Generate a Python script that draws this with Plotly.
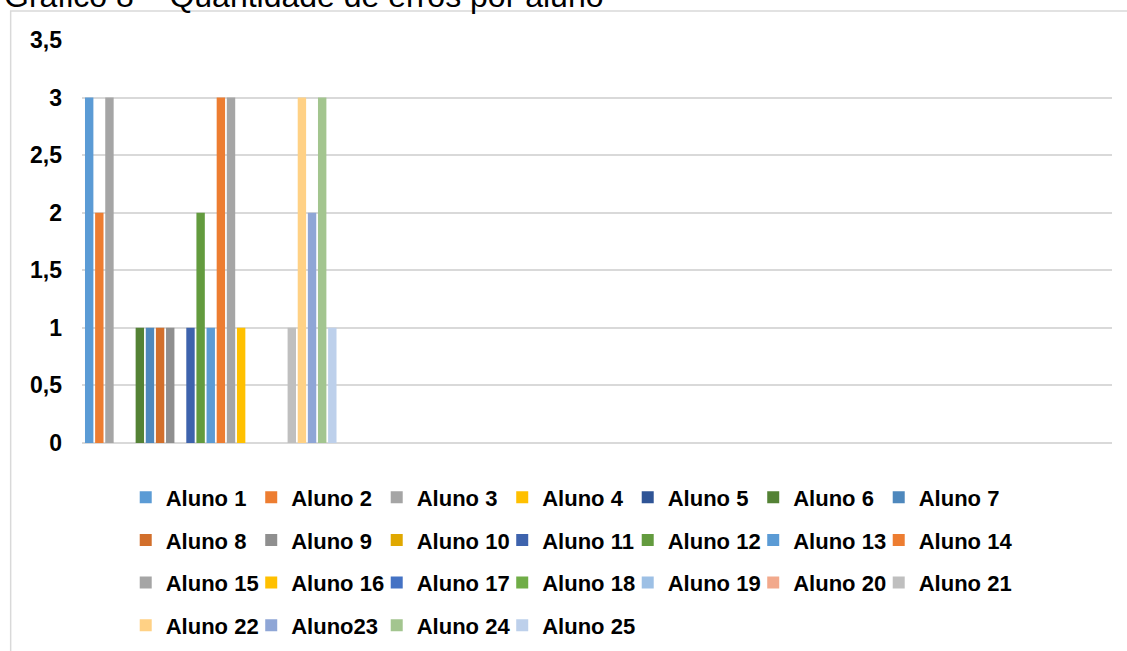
import plotly.graph_objects as go

# ---- data ----
categorias = ["Q1", "Q2", "Q3", "Q4"]  # eixo x (sem rótulos visíveis)
alunos = ["Aluno 1", "Aluno 2", "Aluno 3", "Aluno 4", "Aluno 5", "Aluno 6", "Aluno 7",
          "Aluno 8", "Aluno 9", "Aluno 10", "Aluno 11", "Aluno 12", "Aluno 13", "Aluno 14",
          "Aluno 15", "Aluno 16", "Aluno 17", "Aluno 18", "Aluno 19", "Aluno 20", "Aluno 21",
          "Aluno 22", "Aluno23", "Aluno 24", "Aluno 25"]
erros = [3, 2, 3, 0, 0, 1, 1, 1, 1, 0, 1, 2, 1, 3, 3, 1, 0, 0, 0, 0, 1, 3, 2, 3, 1]
y_ticks = [0, 0.5, 1, 1.5, 2, 2.5, 3, 3.5]
titulo = "Gráfico 8 – Quantidade de erros por aluno"

cores = ["#5B9BD5", "#ED7D31", "#A5A5A5", "#FFC000", "#2F5496", "#548235", "#4E88BD",
         "#D26F2B", "#8F8F8F", "#E0A800", "#3E63AD", "#639B3E", "#5B9BD5", "#ED7D31",
         "#A5A5A5", "#FFC000", "#4472C4", "#70AD47", "#9DC0E5", "#F2A98C", "#BFBFBF",
         "#FFD185", "#8FA6D6", "#A3C58F", "#BDD0EB"]

# ---- layout geometry (pixels) ----
W, H = 1127, 651
L, R, T, B = 82.3, 1111.7, 40.0, 443.3
pw, ph = R - L, B - T

def px_x(x):
    return (x - L) / pw

def px_y(y):
    return (B - y) / ph

FONT = "Liberation Sans, Arial, sans-serif"
row_of = [0] * 7 + [1] * 7 + [2] * 7 + [3] * 4
legend_ids = ["legend", "legend2", "legend3", "legend4"]
row_y = [497.8, 540.5, 583.2, 626.0]
last_in_row = {6, 13, 20, 24}

fig = go.Figure()
for i, (nome, v) in enumerate(zip(alunos, erros)):
    extra = dict(legendwidth=110) if i in last_in_row else {}
    fig.add_trace(go.Bar(
        x=[categorias[0]], y=[v], name=nome,
        marker=dict(color=cores[i], line=dict(width=0)),
        legend=legend_ids[row_of[i]], **extra,
    ))

leg_common = dict(
    orientation="h", xanchor="left", yanchor="middle",
    x=px_x(126), entrywidth=80.5, entrywidthmode="pixels",
    bgcolor="rgba(0,0,0,0)", traceorder="normal",
    font=dict(family=FONT, size=22, color="#000000", weight="bold"),
)

layout_legends = {}
for k, lid in enumerate(legend_ids):
    layout_legends[lid] = dict(leg_common, y=px_y(row_y[k]))

fig.update_layout(
    width=W, height=H,
    margin=dict(l=L, r=W - R, t=T, b=H - B, autoexpand=False),
    paper_bgcolor="white", plot_bgcolor="white",
    barmode="group", bargap=0.0165, bargroupgap=0.17,
    separators=", ",
    showlegend=True,
    xaxis=dict(
        type="category", categoryorder="array", categoryarray=categorias,
        range=[-0.5, 3.5], showticklabels=False, showgrid=False,
        zeroline=False, showline=False, ticks="",
    ),
    yaxis=dict(
        range=[0, 3.5], tickvals=y_ticks, showgrid=True,
        gridcolor="#D9D9D9", gridwidth=1.5, zeroline=True,
        zerolinecolor="#D9D9D9", zerolinewidth=1.5, showline=False,
        ticks="", ticklabelstandoff=19,
        tickfont=dict(family=FONT, size=23, color="#000000", weight="bold"),
    ),
    shapes=[dict(
        type="rect", xref="paper", yref="paper",
        x0=px_x(11), x1=px_x(1140), y0=px_y(700), y1=px_y(11),
        line=dict(color="#D9D9D9", width=1.5), fillcolor="rgba(0,0,0,0)", layer="below",
    )],
    annotations=[dict(
        text=titulo, xref="paper", yref="paper", x=px_x(2), y=px_y(-3.8),
        xanchor="left", yanchor="middle", showarrow=False,
        font=dict(family=FONT, size=32, color="#000000"),
    )],
    **layout_legends,
)

fig.write_html("out.html", config={"displayModeBar": False},
               post_script="document.body.style.margin='0px';")
